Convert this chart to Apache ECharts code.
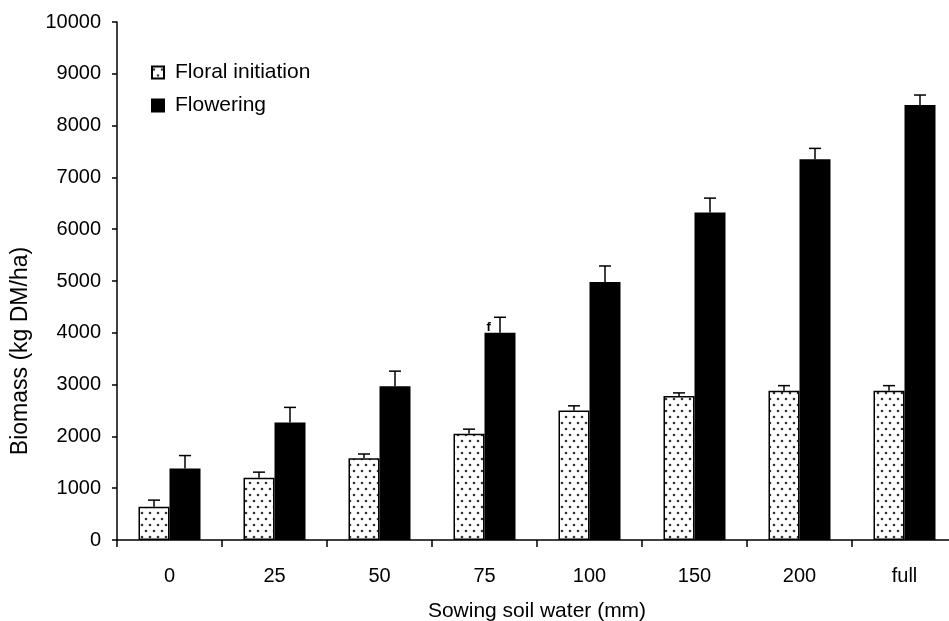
<!DOCTYPE html>
<html>
<head>
<meta charset="utf-8">
<script src="https://cdn.jsdelivr.net/npm/echarts@6/dist/echarts.min.js"></script>
<style>html,body{margin:0;padding:0;background:#fff;}#c{width:949px;height:621px;}</style>
</head>
<body>
<div id="c"></div>
<script>
// ---- data ----
var categories = ['0', '25', '50', '75', '100', '150', '200', 'full'];
var floral = [640, 1200, 1580, 2050, 2500, 2780, 2880, 2880];
var floralSE = [130, 110, 80, 90, 90, 60, 100, 100];
var flowering = [1380, 2270, 2970, 4000, 4980, 6320, 7350, 8400];
var floweringSE = [250, 290, 290, 300, 310, 280, 210, 190];
var yTicks = [0, 1000, 2000, 3000, 4000, 5000, 6000, 7000, 8000, 9000, 10000];

var FONT = 'Liberation Sans, Arial, sans-serif';
var BAR_W = 31;

// dotted fill pattern
function makePattern() {
  var cv = document.createElement('canvas');
  cv.width = 8; cv.height = 12;
  var ctx = cv.getContext('2d');
  ctx.fillStyle = '#ffffff';
  ctx.fillRect(0, 0, 8, 12);
  ctx.fillStyle = '#333333';
  ctx.beginPath(); ctx.arc(2, 3, 1.3, 0, Math.PI * 2); ctx.fill();
  ctx.beginPath(); ctx.arc(6, 9, 1.3, 0, Math.PI * 2); ctx.fill();
  return cv;
}
var pattern = { image: makePattern(), repeat: 'repeat' };

function errData(vals, se) {
  return vals.map(function (v, i) { return [i, v, v + se[i]]; });
}
function errRender(offset) {
  return function (params, api) {
    var i = api.value(0);
    var lo = api.coord([i, api.value(1)]);
    var hi = api.coord([i, api.value(2)]);
    var x = lo[0] + offset;
    var style = { stroke: '#000', lineWidth: 1.5 };
    return {
      type: 'group',
      children: [
        { type: 'line', shape: { x1: x, y1: lo[1], x2: x, y2: hi[1] }, style: style },
        { type: 'line', shape: { x1: x - 6, y1: hi[1], x2: x + 6, y2: hi[1] }, style: style }
      ]
    };
  };
}

var floweringData = flowering.map(function (v, i) {
  if (i === 3) {
    return { value: v, label: { show: true, formatter: 'f', position: [2, -12], fontSize: 13, fontWeight: 'bold', color: '#000', fontFamily: FONT } };
  }
  return v;
});

var chart = echarts.init(document.getElementById('c'), null, { renderer: 'canvas' });
chart.setOption({
  animation: false,
  backgroundColor: '#fff',
  textStyle: { fontFamily: FONT },
  grid: { left: 117, top: 22, right: -8, bottom: 81, containLabel: false, outerBoundsMode: 'none' },
  legend: {
    orient: 'vertical',
    left: 151, top: 62, padding: 0,
    itemWidth: 12, itemHeight: 12, itemGap: 12,
    icon: 'rect',
    data: ['Floral initiation', 'Flowering'],
    textStyle: { fontSize: 21, color: '#000', fontFamily: FONT, padding: [0, 0, 0, 6], lineHeight: 20 }
  },
  xAxis: {
    type: 'category',
    data: categories,
    name: 'Sowing soil water (mm)',
    nameLocation: 'middle',
    nameGap: 61,
    nameTextStyle: { fontSize: 21, color: '#000', fontFamily: FONT, verticalAlign: 'top' },
    axisLine: { lineStyle: { color: '#000', width: 1.5 } },
    axisTick: { show: true, length: 7, lineStyle: { color: '#000', width: 1.5 } },
    axisLabel: { fontSize: 20, color: '#000', margin: 26, fontFamily: FONT },
    splitLine: { show: false }
  },
  yAxis: {
    type: 'value',
    min: yTicks[0], max: yTicks[yTicks.length - 1], interval: 1000,
    name: 'Biomass (kg DM/ha)',
    nameLocation: 'middle',
    nameGap: 85,
    nameRotate: 90,
    nameTextStyle: { fontSize: 23, color: '#000', fontFamily: FONT, padding: [0, 140, 0, 0] },
    axisLine: { show: true, lineStyle: { color: '#000', width: 1.5 } },
    axisTick: { show: true, length: 5, lineStyle: { color: '#000', width: 1.5 } },
    axisLabel: { fontSize: 20, color: '#000', margin: 16, fontFamily: FONT, formatter: function (v) { return String(v); } },
    splitLine: { show: false }
  },
  series: [
    {
      name: 'Floral initiation', type: 'bar', data: floral,
      barWidth: BAR_W, barGap: '0%',
      itemStyle: { color: pattern, borderColor: '#000', borderWidth: 1.5 },
      z: 2
    },
    {
      name: 'Flowering', type: 'bar', data: floweringData,
      barWidth: BAR_W, barGap: '0%',
      itemStyle: { color: '#000', borderColor: '#000', borderWidth: 1.5 },
      z: 2
    },
    {
      type: 'custom', name: 'floralErr', data: errData(floral, floralSE),
      renderItem: errRender(-BAR_W / 2), encode: { x: 0, y: [1, 2] }, z: 3, silent: true
    },
    {
      type: 'custom', name: 'floweringErr', data: errData(flowering, floweringSE),
      renderItem: errRender(BAR_W / 2), encode: { x: 0, y: [1, 2] }, z: 3, silent: true
    }
  ]
});
</script>
</body>
</html>
